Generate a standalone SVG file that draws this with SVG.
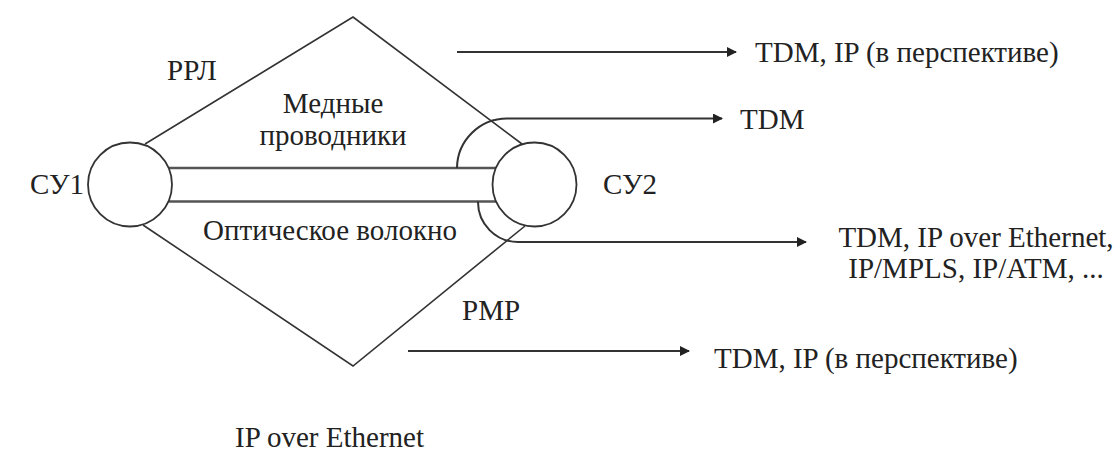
<svg xmlns="http://www.w3.org/2000/svg" width="1120" height="451" viewBox="0 0 1120 451">
<defs>
<style>
.t{font-family:"Liberation Serif","Times New Roman",serif;font-size:29px;fill:#222}
.ln{stroke:#333;stroke-width:1.6;fill:none}
.bar{stroke:#555;stroke-width:2.6;fill:none}
.ar{stroke:#333;stroke-width:2;fill:none;marker-end:url(#ah)}
.node{stroke:#333;stroke-width:1.8;fill:#fff}
</style>
<marker id="ah" viewBox="0 0 10 10" refX="9" refY="5" markerWidth="5" markerHeight="5" orient="auto" markerUnits="strokeWidth">
<path d="M0,0 L10,5 L0,10 z" fill="#222"/>
</marker>
</defs>
<rect width="1120" height="451" fill="#fff"/>
<g id="connectors">
<path class="ln" d="M145,144 L353,17 L522,144"/>
<path class="ln" d="M143,225 L353,366 L525,226"/>
<line class="bar" x1="169" y1="168" x2="496" y2="168"/>
<line class="bar" x1="169" y1="201.5" x2="496" y2="201.5"/>
<path class="ln" d="M457,168 A50,50 0 0 1 507,118.5 L722,118.5" marker-end="url(#ah)" style="stroke-width:2"/>
<path class="ln" d="M478,201.5 A40,40 0 0 0 518,242 L806,242" marker-end="url(#ah)" style="stroke-width:2"/>
<line class="ar" x1="457" y1="52" x2="736" y2="52"/>
<line class="ar" x1="408" y1="351" x2="689" y2="351"/>
</g>
<g id="su1">
<circle class="node" cx="130" cy="184.5" r="42"/>
<text class="t" x="30" y="194">СУ1</text>
</g>
<g id="su2">
<circle class="node" cx="534.5" cy="184.5" r="42"/>
<text class="t" x="603" y="194">СУ2</text>
</g>
<g id="labels">
<text class="t" x="167" y="80">РРЛ</text>
<text class="t" x="333" y="113" text-anchor="middle">Медные</text>
<text class="t" x="333" y="145" text-anchor="middle">проводники</text>
<text class="t" x="203" y="240">Оптическое волокно</text>
<text class="t" x="462" y="320">PMP</text>
<text class="t" x="755" y="62">TDM, IP (в перспективе)</text>
<text class="t" x="740" y="129">TDM</text>
<text class="t" x="976" y="247" text-anchor="middle">TDM, IP over Ethernet,</text>
<text class="t" x="976" y="278" text-anchor="middle">IP/MPLS, IP/ATM, ...</text>
<text class="t" x="714" y="368">TDM, IP (в перспективе)</text>
<text class="t" x="235" y="447">IP over Ethernet</text>
</g>
</svg>
